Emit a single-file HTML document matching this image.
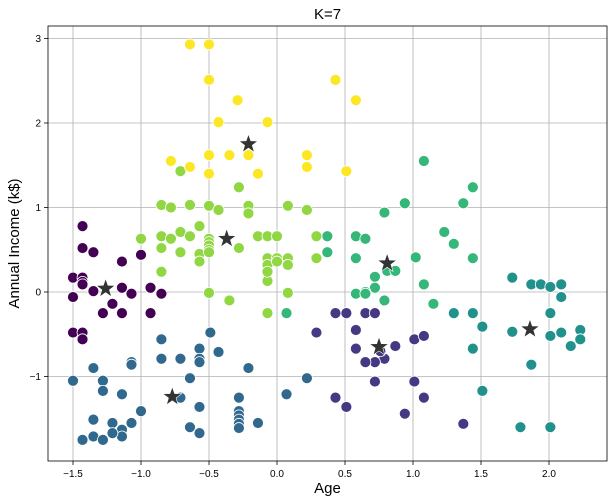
<!DOCTYPE html>
<html><head><meta charset="utf-8"><style>
body{margin:0;background:#fff;font-family:"Liberation Sans",sans-serif}
svg{display:block}
</style></head><body>
<svg id="chart" width="613" height="503"></svg>
<script>
const xTicks=[-1.5,-1.0,-0.5,0.0,0.5,1.0,1.5,2.0];
const yTicks=[-1,0,1,2,3];
const clusterColors=["#440154","#443983","#31688e","#21918c","#35b779","#90d743","#fde725"];
const c0=[[-1.43,0.52],[-1.35,0.47],[-1.0,0.44],[-1.14,0.36],[-1.5,0.17],[-1.43,0.17],[-1.43,0.12],[-1.43,0.09],[-1.35,0.01],[-1.14,0.05],[-1.07,-0.02],[-0.93,0.05],[-0.85,-0.02],[-1.5,-0.06],[-1.21,-0.14],[-1.28,-0.25],[-1.14,-0.25],[-0.93,-0.25],[-1.5,-0.48],[-1.43,-0.48],[-1.43,-0.56],[-1.43,0.78]];
const c1=[[0.43,-0.25],[0.51,-0.25],[0.65,-0.25],[0.72,-0.25],[0.58,-0.45],[0.58,-0.67],[1.01,-0.56],[1.08,-0.52],[0.87,-0.64],[0.79,-0.79],[0.72,-0.83],[0.65,-0.83],[0.72,-1.06],[1.01,-1.06],[0.43,-1.25],[0.51,-1.36],[1.08,-1.25],[0.94,-1.44],[1.37,-1.56],[0.29,-0.48],[0.76,-0.7]];
const c2=[[-0.49,-0.48],[-0.85,-0.56],[-0.57,-0.67],[-0.43,-0.71],[-0.85,-0.79],[-0.71,-0.79],[-0.57,-0.79],[-0.57,-0.83],[-1.07,-0.83],[-1.07,-0.86],[-1.35,-0.9],[-0.21,-0.9],[-0.64,-1.02],[0.22,-1.02],[-1.5,-1.05],[-1.28,-1.05],[-1.28,-1.17],[-1.14,-1.21],[-0.71,-1.25],[-0.28,-1.25],[0.07,-1.21],[-0.57,-1.36],[-1.0,-1.41],[-0.28,-1.41],[-0.28,-1.46],[-0.28,-1.51],[-0.28,-1.56],[-0.28,-1.61],[-1.35,-1.51],[-1.21,-1.55],[-1.07,-1.55],[-0.14,-1.55],[-0.64,-1.6],[-0.57,-1.67],[-1.14,-1.63],[-1.14,-1.71],[-1.21,-1.67],[-1.35,-1.71],[-1.43,-1.75],[-1.28,-1.75]];
const c3=[[1.73,0.17],[1.87,0.09],[1.94,0.09],[2.01,0.06],[2.09,0.09],[2.09,-0.06],[1.30,-0.25],[1.44,-0.25],[1.51,-0.41],[1.73,-0.47],[2.01,-0.52],[2.01,-0.25],[2.09,-0.48],[2.23,-0.45],[2.23,-0.56],[2.16,-0.64],[1.44,-0.67],[1.87,-0.86],[1.51,-1.17],[1.79,-1.6],[2.01,-1.6]];
const c4=[[1.08,1.55],[1.44,1.24],[1.37,1.05],[0.94,1.05],[0.79,0.94],[0.37,0.66],[0.58,0.66],[0.65,0.63],[1.23,0.71],[1.30,0.57],[0.37,0.47],[1.02,0.41],[1.44,0.40],[0.58,0.40],[0.81,0.25],[0.87,0.25],[0.72,0.18],[0.72,0.05],[0.65,0.0],[0.58,-0.02],[0.65,-0.02],[0.79,-0.1],[1.08,0.09],[1.15,-0.14],[0.07,-0.25]];
const c5=[[-0.71,1.43],[-0.28,1.24],[-0.85,1.03],[-0.78,1.0],[-0.64,1.03],[-0.5,1.02],[-0.43,0.97],[-0.21,1.02],[-0.21,0.93],[0.08,1.02],[0.22,0.97],[-1.0,0.63],[-0.85,0.66],[-0.78,0.63],[-0.71,0.71],[-0.64,0.66],[-0.57,0.78],[-0.5,0.63],[-0.14,0.66],[-0.07,0.66],[0.0,0.66],[0.29,0.66],[-0.85,0.52],[-0.71,0.47],[-0.57,0.45],[-0.57,0.36],[-0.5,0.59],[-0.5,0.55],[-0.5,0.5],[-0.5,0.47],[-0.28,0.52],[-0.85,0.24],[-0.07,0.40],[0.0,0.40],[0.08,0.40],[-0.07,0.32],[0.0,0.36],[0.08,0.32],[-0.07,0.13],[-0.07,0.24],[0.29,0.40],[0.08,-0.01],[-0.5,-0.01],[-0.35,-0.1],[-0.07,-0.25]];
const c6=[[-0.64,2.93],[-0.5,2.93],[-0.5,2.51],[-0.29,2.27],[-0.43,2.01],[-0.07,2.01],[-0.5,1.62],[-0.35,1.62],[-0.21,1.62],[0.22,1.62],[-0.78,1.55],[-0.64,1.48],[0.22,1.48],[-0.5,1.40],[-0.14,1.40],[0.43,2.51],[0.58,2.27],[0.51,1.43]];
const clusters=[c0,c1,c2,c3,c4,c5,c6];
const centroidX=[-1.26,0.75,-0.77,1.86,0.81,-0.37,-0.21];
const centroidY=[0.04,-0.65,-1.24,-0.44,0.34,0.63,1.75];

const L=48,R=607,T=26,B=461;
const X=v=>277+v*136;
const Y=v=>292-v*84.5;
const svg=document.getElementById('chart');
const NS='http://www.w3.org/2000/svg';
function mk(tag,attrs,parent){const e=document.createElementNS(NS,tag);for(const k in attrs)e.setAttribute(k,attrs[k]);(parent||svg).appendChild(e);return e;}
const grid=mk('g',{});


xTicks.forEach(t=>{
  const l=mk('line',{x1:X(t),x2:X(t),y1:T,y2:B,stroke:'#b0b0b0','stroke-width':0.8},grid);
  
  
  mk('line',{x1:X(t),x2:X(t),y1:B,y2:B+4,stroke:'#000','stroke-width':0.8});
  const tx=mk('text',{x:X(t),y:B+16,'text-anchor':'middle','font-size':10});
  tx.textContent=t.toFixed(1).replace('-','−');
  
  
});
yTicks.forEach(t=>{
  const l=mk('line',{x1:L,x2:R,y1:Y(t),y2:Y(t),stroke:'#b0b0b0','stroke-width':0.8},grid);
  
  
  mk('line',{x1:L-4,x2:L,y1:Y(t),y2:Y(t),stroke:'#000','stroke-width':0.8});
  const tx=mk('text',{x:L-7,y:Y(t)+3.5,'text-anchor':'end','font-size':10});
  tx.textContent=String(t).replace('-','−');
  
  
});
clusters.forEach((pts,ci)=>{
  const g=mk('g',{});
  
  
  pts.forEach(p=>{
    const c=mk('circle',{cx:X(p[0]),cy:Y(p[1]),r:5.5,fill:clusterColors[ci],stroke:'#fff','stroke-width':0.8},g);
    
    
  });
});
function star(cx,cy,ro,ri){let d='';for(let i=0;i<10;i++){const r=i%2?ri:ro;const a=-Math.PI/2+i*Math.PI/5;d+=(i?'L':'M')+(cx+r*Math.cos(a)).toFixed(2)+','+(cy+r*Math.sin(a)).toFixed(2);}return d+'Z';}
centroidX.forEach((cx,i)=>{
  const s=mk('path',{d:star(X(cx),Y(centroidY[i]),10,4),fill:'#333',stroke:'#fff','stroke-width':0.6});
  
  
});
const fr=mk('rect',{x:L,y:T,width:R-L,height:B-T,fill:'none',stroke:'#000','stroke-width':0.8});


const title=mk('text',{x:(L+R)/2,y:19,'text-anchor':'middle','font-size':15});
title.textContent='K=7';


const xl=mk('text',{x:(L+R)/2,y:493,'text-anchor':'middle','font-size':15});
xl.textContent='Age';


const yl=mk('text',{x:0,y:0,'text-anchor':'middle','font-size':15,transform:'translate(19,'+((T+B)/2)+') rotate(-90)'});
yl.textContent='Annual Income (k$)';


</script>
</body></html>
